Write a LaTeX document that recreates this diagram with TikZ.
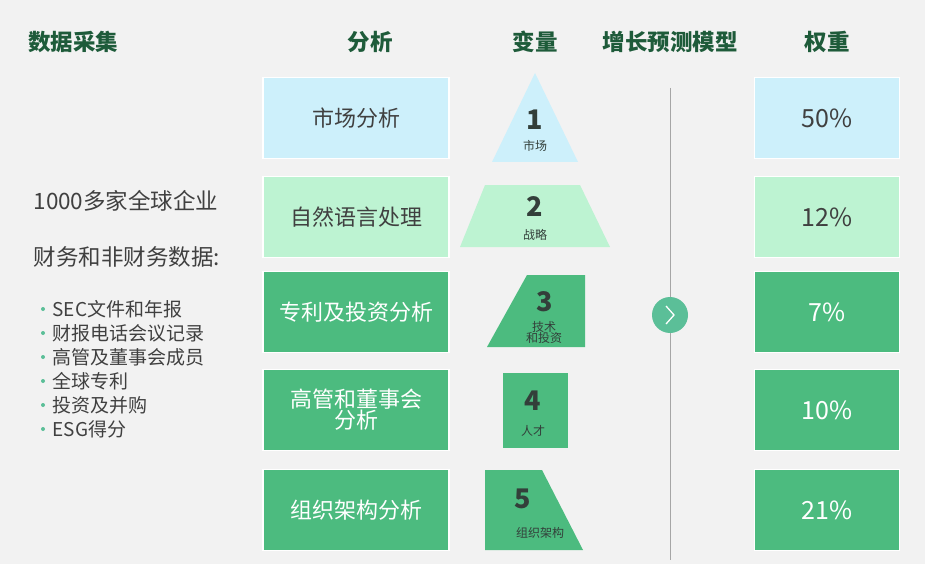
\documentclass[tikz,border=0pt]{standalone}
\usepackage{fontspec}
\setmainfont{Noto Sans CJK SC}
\begin{document}
\begin{tikzpicture}[x=1pt,y=-1pt,
  hdr/.style={font=\bfseries\fontsize{22.5}{26}\selectfont,text=hcol},
  bx/.style={draw=white,line width=1.5pt,minimum width=186pt,minimum height=81pt,text=tcol,font=\fontsize{22}{25}\selectfont,align=center,inner sep=0pt},
  wbx/.style={bx,minimum width=145pt,font=\fontsize{25}{28}\selectfont},
  num/.style={font=\bfseries\fontsize{27}{29}\selectfont,text=ncol},
  sm/.style={font=\fontsize{12}{14}\selectfont,text=ncol,align=center},
  lt/.style={text=tcol,anchor=west,font=\fontsize{22.5}{26}\selectfont},
  li/.style={text=tcol,anchor=west,font=\fontsize{19}{22}\selectfont}]
\definecolor{bg}{HTML}{F2F2F2}
\definecolor{hcol}{HTML}{1E5B3A}
\definecolor{tcol}{HTML}{404040}
\definecolor{ncol}{HTML}{333F3A}
\definecolor{cb}{HTML}{CDF0FB}
\definecolor{cl}{HTML}{BDF3D2}
\definecolor{cg}{HTML}{4CBB7F}
\definecolor{cc}{HTML}{5BBF98}
\fill[bg] (0,0) rectangle (925,564);
\useasboundingbox (0,0) rectangle (925,564);
\node[hdr] (h1) at (73,42) {数据采集};
\node[hdr] (h2) at (370,42) {分析};
\node[hdr] (h3) at (535,42) {变量};
\node[hdr] (h4) at (670,42) {增长预测模型};
\node[hdr] (h5) at (827,42) {权重};
% analysis boxes
\node[bx,fill=cb] (a1) at (356,118) {市场分析};
\node[bx,fill=cl] (a2) at (356,217) {自然语言处理};
\node[bx,fill=cg,text=white] (a3) at (356,312) {专利及投资分析};
\node[bx,fill=cg,text=white] (a4) at (356,410) {高管和董事会\\[-4pt]分析};
\node[bx,fill=cg,text=white] (a5) at (356,510) {组织架构分析};
% weights
\node[wbx,fill=cb] (w1) at (827,118) {50\%};
\node[wbx,fill=cl] (w2) at (827,217) {12\%};
\node[wbx,fill=cg,text=white] (w3) at (827,312) {7\%};
\node[wbx,fill=cg,text=white] (w4) at (827,410) {10\%};
\node[wbx,fill=cg,text=white] (w5) at (827,510) {21\%};
% variable shapes
\fill[cb] (535,73) -- (578,162) -- (492,162) -- cycle;
\fill[cl] (485,185) -- (580,185) -- (610,247) -- (460,247) -- cycle;
\fill[cg] (527,275) -- (585,275) -- (585,347) -- (487,347) -- cycle;
\fill[cg] (503,373) rectangle (568,448);
\fill[cg] (485,470) -- (542,470) -- (583,550) -- (485,550) -- cycle;
\node[num] (n1) at (535,120) {1};
\node[sm] (s1) at (535,146) {市场};
\node[num] (n2) at (535,207) {2};
\node[sm] (s2) at (535,235) {战略};
\node[num] (n3) at (545,302) {3};
\node[sm] (s3) at (544,332) {技术\\[-3pt]和投资};
\node[num] (n4) at (533,401) {4};
\node[sm] (s4) at (533,431) {人才};
\node[num] (n5) at (523,499) {5};
\node[sm] (s5) at (540,533) {组织架构};
% model
\draw[gray!70,line width=1pt] (670,88) -- (670,560);
\node[circle,fill=cc,minimum size=36pt,inner sep=0pt] (c) at (670,315) {};
\draw[white,line width=1.3pt] ([xshift=-4pt,yshift=-9pt]c.center) -- ([xshift=4pt]c.center) -- ([xshift=-4pt,yshift=9pt]c.center);
% left text
\node[lt] (t1) at (30,201) {1000多家全球企业};
\node[lt] (t2) at (30,257) {财务和非财务数据:};
\foreach \t [count=\i] in {SEC文件和年报,财报电话会议记录,高管及董事会成员,全球专利,投资及并购,ESG得分}{
  \fill[cc] (43,{309+(\i-1)*24}) circle (2pt);
  \node[li] (l\i) at (49,{309+(\i-1)*24}) {\t};
}
\end{tikzpicture}
\end{document}
